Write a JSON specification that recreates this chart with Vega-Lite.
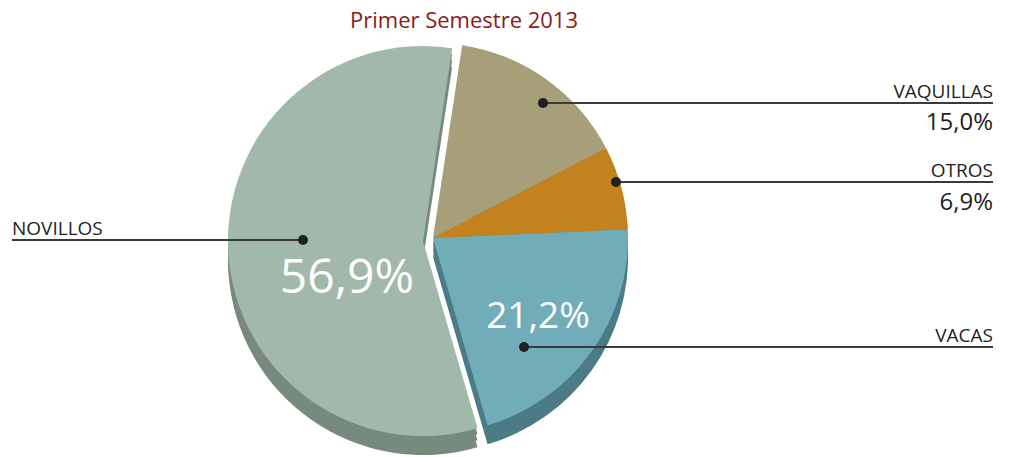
{
  "$schema": "https://vega.github.io/schema/vega-lite/v6.json",
  "width": 1011,
  "height": 457,
  "padding": 0,
  "autosize": {"type": "fit", "contains": "padding"},
  "background": "white",
  "config": {"view": {"stroke": null}, "font": "Open Sans"},
  "data": {"values": [
    {"Tipo": "VAQUILLAS", "pct": 15.0, "orden": 1},
    {"Tipo": "OTROS", "pct": 6.9, "orden": 2},
    {"Tipo": "VACAS", "pct": 21.2, "orden": 3},
    {"Tipo": "NOVILLOS", "pct": 56.9, "orden": 4}
  ]},
  "transform": [{"calculate": "replace(format(datum.pct, '.1f'), '.', ',') + '%'", "as": "etiqueta"}],
  "resolve": {"scale": {"color": "independent"}},
  "layer": [
    {
      "mark": {"type": "arc", "outerRadius": 195, "strokeWidth": 0},
      "encoding": {
        "theta": {"field": "pct", "type": "quantitative", "stack": true, "scale": {"range": [0.15, 6.4332]}},
        "order": {"field": "orden"},
        "x": {"datum": 423, "type": "quantitative", "scale": {"domain": [0, 1011], "nice": false, "zero": false}, "axis": null},
        "y": {"datum": 260, "type": "quantitative", "scale": {"domain": [0, 457], "nice": false, "zero": false, "reverse": true}, "axis": null},
        "color": {"field": "Tipo", "scale": {"domain": ["VAQUILLAS", "OTROS", "VACAS", "NOVILLOS"], "range": ["#8a8462", "#a36b16", "#4b7c86", "#778a7e"]}, "legend": null},
        "opacity": {"condition": {"test": "datum.Tipo === 'NOVILLOS'", "value": 1}, "value": 0}
      }
    },
    {
      "mark": {"type": "arc", "outerRadius": 195, "strokeWidth": 0},
      "encoding": {
        "theta": {"field": "pct", "type": "quantitative", "stack": true, "scale": {"range": [0.15, 6.4332]}},
        "order": {"field": "orden"},
        "x": {"datum": 433, "type": "quantitative", "scale": {"domain": [0, 1011], "nice": false, "zero": false}, "axis": null},
        "y": {"datum": 257, "type": "quantitative", "scale": {"domain": [0, 457], "nice": false, "zero": false, "reverse": true}, "axis": null},
        "color": {"field": "Tipo", "scale": {"domain": ["VAQUILLAS", "OTROS", "VACAS", "NOVILLOS"], "range": ["#8a8462", "#a36b16", "#4b7c86", "#778a7e"]}, "legend": null},
        "opacity": {"condition": {"test": "datum.Tipo === 'NOVILLOS'", "value": 0}, "value": 1}
      }
    },
    {
      "mark": {"type": "arc", "outerRadius": 195, "strokeWidth": 0},
      "encoding": {
        "theta": {"field": "pct", "type": "quantitative", "stack": true, "scale": {"range": [0.15, 6.4332]}},
        "order": {"field": "orden"},
        "x": {"datum": 423, "type": "quantitative", "scale": {"domain": [0, 1011], "nice": false, "zero": false}, "axis": null},
        "y": {"datum": 253, "type": "quantitative", "scale": {"domain": [0, 457], "nice": false, "zero": false, "reverse": true}, "axis": null},
        "color": {"field": "Tipo", "scale": {"domain": ["VAQUILLAS", "OTROS", "VACAS", "NOVILLOS"], "range": ["#8a8462", "#a36b16", "#4b7c86", "#778a7e"]}, "legend": null},
        "opacity": {"condition": {"test": "datum.Tipo === 'NOVILLOS'", "value": 1}, "value": 0}
      }
    },
    {
      "mark": {"type": "arc", "outerRadius": 195, "strokeWidth": 0},
      "encoding": {
        "theta": {"field": "pct", "type": "quantitative", "stack": true, "scale": {"range": [0.15, 6.4332]}},
        "order": {"field": "orden"},
        "x": {"datum": 433, "type": "quantitative", "scale": {"domain": [0, 1011], "nice": false, "zero": false}, "axis": null},
        "y": {"datum": 250, "type": "quantitative", "scale": {"domain": [0, 457], "nice": false, "zero": false, "reverse": true}, "axis": null},
        "color": {"field": "Tipo", "scale": {"domain": ["VAQUILLAS", "OTROS", "VACAS", "NOVILLOS"], "range": ["#8a8462", "#a36b16", "#4b7c86", "#778a7e"]}, "legend": null},
        "opacity": {"condition": {"test": "datum.Tipo === 'NOVILLOS'", "value": 0}, "value": 1}
      }
    },
    {
      "mark": {"type": "arc", "outerRadius": 195, "strokeWidth": 0},
      "encoding": {
        "theta": {"field": "pct", "type": "quantitative", "stack": true, "scale": {"range": [0.15, 6.4332]}},
        "order": {"field": "orden"},
        "x": {"datum": 423, "type": "quantitative", "scale": {"domain": [0, 1011], "nice": false, "zero": false}, "axis": null},
        "y": {"datum": 247, "type": "quantitative", "scale": {"domain": [0, 457], "nice": false, "zero": false, "reverse": true}, "axis": null},
        "color": {"field": "Tipo", "scale": {"domain": ["VAQUILLAS", "OTROS", "VACAS", "NOVILLOS"], "range": ["#8a8462", "#a36b16", "#4b7c86", "#778a7e"]}, "legend": null},
        "opacity": {"condition": {"test": "datum.Tipo === 'NOVILLOS'", "value": 1}, "value": 0}
      }
    },
    {
      "mark": {"type": "arc", "outerRadius": 195, "strokeWidth": 0},
      "encoding": {
        "theta": {"field": "pct", "type": "quantitative", "stack": true, "scale": {"range": [0.15, 6.4332]}},
        "order": {"field": "orden"},
        "x": {"datum": 433, "type": "quantitative", "scale": {"domain": [0, 1011], "nice": false, "zero": false}, "axis": null},
        "y": {"datum": 244, "type": "quantitative", "scale": {"domain": [0, 457], "nice": false, "zero": false, "reverse": true}, "axis": null},
        "color": {"field": "Tipo", "scale": {"domain": ["VAQUILLAS", "OTROS", "VACAS", "NOVILLOS"], "range": ["#8a8462", "#a36b16", "#4b7c86", "#778a7e"]}, "legend": null},
        "opacity": {"condition": {"test": "datum.Tipo === 'NOVILLOS'", "value": 0}, "value": 1}
      }
    },
    {
      "mark": {"type": "arc", "outerRadius": 195, "strokeWidth": 0},
      "encoding": {
        "theta": {"field": "pct", "type": "quantitative", "stack": true, "scale": {"range": [0.15, 6.4332]}},
        "order": {"field": "orden"},
        "x": {"datum": 423, "type": "quantitative", "scale": {"domain": [0, 1011], "nice": false, "zero": false}, "axis": null},
        "y": {"datum": 241, "type": "quantitative", "scale": {"domain": [0, 457], "nice": false, "zero": false, "reverse": true}, "axis": null},
        "color": {"field": "Tipo", "scale": {"domain": ["VAQUILLAS", "OTROS", "VACAS", "NOVILLOS"], "range": ["#a79f79", "#c4821f", "#71adb9", "#a2b8aa"]}, "legend": null},
        "opacity": {"condition": {"test": "datum.Tipo === 'NOVILLOS'", "value": 1}, "value": 0}
      }
    },
    {
      "mark": {"type": "arc", "outerRadius": 195, "strokeWidth": 0},
      "encoding": {
        "theta": {"field": "pct", "type": "quantitative", "stack": true, "scale": {"range": [0.15, 6.4332]}},
        "order": {"field": "orden"},
        "x": {"datum": 433, "type": "quantitative", "scale": {"domain": [0, 1011], "nice": false, "zero": false}, "axis": null},
        "y": {"datum": 238, "type": "quantitative", "scale": {"domain": [0, 457], "nice": false, "zero": false, "reverse": true}, "axis": null},
        "color": {"field": "Tipo", "scale": {"domain": ["VAQUILLAS", "OTROS", "VACAS", "NOVILLOS"], "range": ["#a79f79", "#c4821f", "#71adb9", "#a2b8aa"]}, "legend": null},
        "opacity": {"condition": {"test": "datum.Tipo === 'NOVILLOS'", "value": 0}, "value": 1}
      }
    },
    {
      "transform": [{"filter": "datum.Tipo === 'NOVILLOS'"}],
      "layer": [
        {"mark": {"type": "text", "text": "Primer Semestre 2013", "align": "center", "baseline": "alphabetic", "fontSize": 22, "color": "#8b1a1a"},
         "encoding": {
          "x": {"datum": 464, "type": "quantitative", "scale": {"domain": [0, 1011], "nice": false, "zero": false}, "axis": null},
          "y": {"datum": 28, "type": "quantitative", "scale": {"domain": [0, 457], "nice": false, "zero": false, "reverse": true}, "axis": null}}},
        {"mark": {"type": "rule", "strokeWidth": 2, "color": "#3a3a3a"},
         "encoding": {
          "x": {"datum": 12, "type": "quantitative", "scale": {"domain": [0, 1011], "nice": false, "zero": false}, "axis": null},
          "x2": {"datum": 303},
          "y": {"datum": 240, "type": "quantitative", "scale": {"domain": [0, 457], "nice": false, "zero": false, "reverse": true}, "axis": null}}},
        {"mark": {"type": "point", "filled": true, "size": 100, "color": "#231f20", "opacity": 1},
         "encoding": {
          "x": {"datum": 303, "type": "quantitative", "scale": {"domain": [0, 1011], "nice": false, "zero": false}, "axis": null},
          "y": {"datum": 240, "type": "quantitative", "scale": {"domain": [0, 457], "nice": false, "zero": false, "reverse": true}, "axis": null}}},
        {"mark": {"type": "text", "align": "left", "baseline": "alphabetic", "fontSize": 19, "color": "#231f20"},
         "encoding": {
          "text": {"field": "Tipo"},
          "x": {"datum": 12, "type": "quantitative", "scale": {"domain": [0, 1011], "nice": false, "zero": false}, "axis": null},
          "y": {"datum": 235, "type": "quantitative", "scale": {"domain": [0, 457], "nice": false, "zero": false, "reverse": true}, "axis": null}}},
        {"mark": {"type": "text", "align": "center", "baseline": "alphabetic", "fontSize": 48, "color": "white"},
         "encoding": {
          "text": {"field": "etiqueta"},
          "x": {"datum": 347, "type": "quantitative", "scale": {"domain": [0, 1011], "nice": false, "zero": false}, "axis": null},
          "y": {"datum": 293, "type": "quantitative", "scale": {"domain": [0, 457], "nice": false, "zero": false, "reverse": true}, "axis": null}}}
      ]
    },
    {
      "transform": [{"filter": "datum.Tipo === 'VAQUILLAS'"}],
      "layer": [
        {"mark": {"type": "rule", "strokeWidth": 2, "color": "#3a3a3a"},
         "encoding": {
          "x": {"datum": 543, "type": "quantitative", "scale": {"domain": [0, 1011], "nice": false, "zero": false}, "axis": null},
          "x2": {"datum": 993},
          "y": {"datum": 103, "type": "quantitative", "scale": {"domain": [0, 457], "nice": false, "zero": false, "reverse": true}, "axis": null}}},
        {"mark": {"type": "point", "filled": true, "size": 100, "color": "#231f20", "opacity": 1},
         "encoding": {
          "x": {"datum": 543, "type": "quantitative", "scale": {"domain": [0, 1011], "nice": false, "zero": false}, "axis": null},
          "y": {"datum": 103, "type": "quantitative", "scale": {"domain": [0, 457], "nice": false, "zero": false, "reverse": true}, "axis": null}}},
        {"mark": {"type": "text", "align": "right", "baseline": "alphabetic", "fontSize": 19, "color": "#231f20"},
         "encoding": {
          "text": {"field": "Tipo"},
          "x": {"datum": 993, "type": "quantitative", "scale": {"domain": [0, 1011], "nice": false, "zero": false}, "axis": null},
          "y": {"datum": 98, "type": "quantitative", "scale": {"domain": [0, 457], "nice": false, "zero": false, "reverse": true}, "axis": null}}},
        {"mark": {"type": "text", "align": "right", "baseline": "alphabetic", "fontSize": 24, "color": "#231f20"},
         "encoding": {
          "text": {"field": "etiqueta"},
          "x": {"datum": 993, "type": "quantitative", "scale": {"domain": [0, 1011], "nice": false, "zero": false}, "axis": null},
          "y": {"datum": 130, "type": "quantitative", "scale": {"domain": [0, 457], "nice": false, "zero": false, "reverse": true}, "axis": null}}}
      ]
    },
    {
      "transform": [{"filter": "datum.Tipo === 'OTROS'"}],
      "layer": [
        {"mark": {"type": "rule", "strokeWidth": 2, "color": "#3a3a3a"},
         "encoding": {
          "x": {"datum": 616, "type": "quantitative", "scale": {"domain": [0, 1011], "nice": false, "zero": false}, "axis": null},
          "x2": {"datum": 993},
          "y": {"datum": 182, "type": "quantitative", "scale": {"domain": [0, 457], "nice": false, "zero": false, "reverse": true}, "axis": null}}},
        {"mark": {"type": "point", "filled": true, "size": 100, "color": "#231f20", "opacity": 1},
         "encoding": {
          "x": {"datum": 616, "type": "quantitative", "scale": {"domain": [0, 1011], "nice": false, "zero": false}, "axis": null},
          "y": {"datum": 182, "type": "quantitative", "scale": {"domain": [0, 457], "nice": false, "zero": false, "reverse": true}, "axis": null}}},
        {"mark": {"type": "text", "align": "right", "baseline": "alphabetic", "fontSize": 19, "color": "#231f20"},
         "encoding": {
          "text": {"field": "Tipo"},
          "x": {"datum": 993, "type": "quantitative", "scale": {"domain": [0, 1011], "nice": false, "zero": false}, "axis": null},
          "y": {"datum": 177, "type": "quantitative", "scale": {"domain": [0, 457], "nice": false, "zero": false, "reverse": true}, "axis": null}}},
        {"mark": {"type": "text", "align": "right", "baseline": "alphabetic", "fontSize": 24, "color": "#231f20"},
         "encoding": {
          "text": {"field": "etiqueta"},
          "x": {"datum": 993, "type": "quantitative", "scale": {"domain": [0, 1011], "nice": false, "zero": false}, "axis": null},
          "y": {"datum": 210, "type": "quantitative", "scale": {"domain": [0, 457], "nice": false, "zero": false, "reverse": true}, "axis": null}}}
      ]
    },
    {
      "transform": [{"filter": "datum.Tipo === 'VACAS'"}],
      "layer": [
        {"mark": {"type": "rule", "strokeWidth": 2, "color": "#3a3a3a"},
         "encoding": {
          "x": {"datum": 524, "type": "quantitative", "scale": {"domain": [0, 1011], "nice": false, "zero": false}, "axis": null},
          "x2": {"datum": 993},
          "y": {"datum": 347, "type": "quantitative", "scale": {"domain": [0, 457], "nice": false, "zero": false, "reverse": true}, "axis": null}}},
        {"mark": {"type": "point", "filled": true, "size": 100, "color": "#231f20", "opacity": 1},
         "encoding": {
          "x": {"datum": 524, "type": "quantitative", "scale": {"domain": [0, 1011], "nice": false, "zero": false}, "axis": null},
          "y": {"datum": 347, "type": "quantitative", "scale": {"domain": [0, 457], "nice": false, "zero": false, "reverse": true}, "axis": null}}},
        {"mark": {"type": "text", "align": "right", "baseline": "alphabetic", "fontSize": 19, "color": "#231f20"},
         "encoding": {
          "text": {"field": "Tipo"},
          "x": {"datum": 993, "type": "quantitative", "scale": {"domain": [0, 1011], "nice": false, "zero": false}, "axis": null},
          "y": {"datum": 342, "type": "quantitative", "scale": {"domain": [0, 457], "nice": false, "zero": false, "reverse": true}, "axis": null}}},
        {"mark": {"type": "text", "align": "center", "baseline": "alphabetic", "fontSize": 37, "color": "white"},
         "encoding": {
          "text": {"field": "etiqueta"},
          "x": {"datum": 538, "type": "quantitative", "scale": {"domain": [0, 1011], "nice": false, "zero": false}, "axis": null},
          "y": {"datum": 328, "type": "quantitative", "scale": {"domain": [0, 457], "nice": false, "zero": false, "reverse": true}, "axis": null}}}
      ]
    }
  ]
}
